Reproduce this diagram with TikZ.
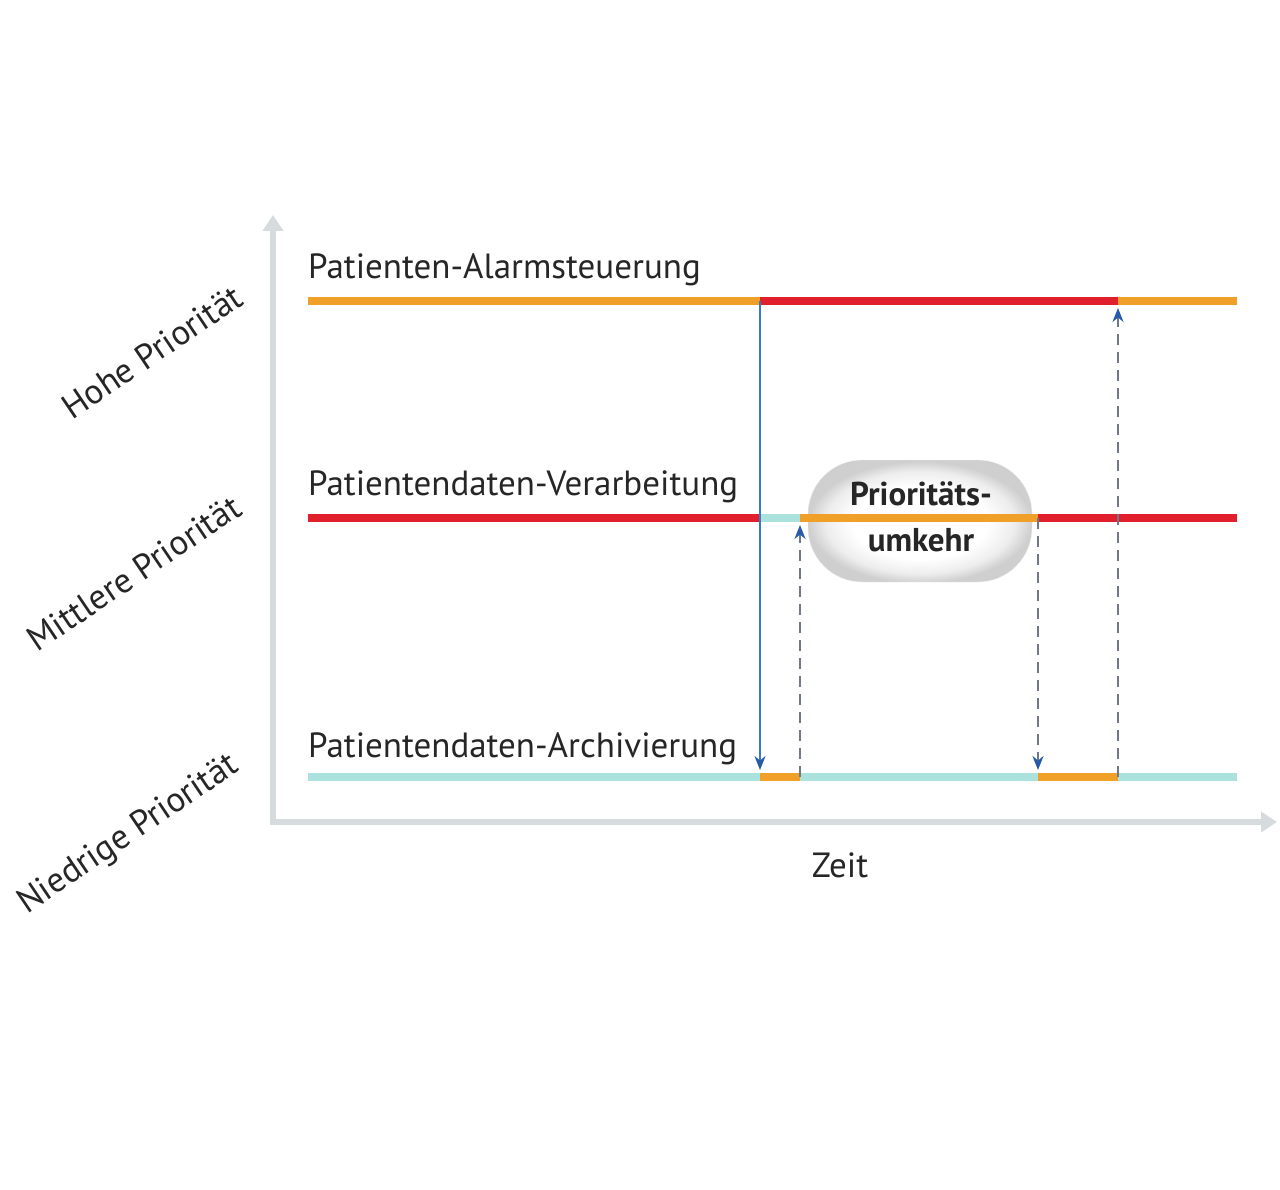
\documentclass[tikz,border=0pt]{standalone}
\usepackage{fontspec}
\setmainfont{PT Sans}
\usetikzlibrary{arrows.meta}
\definecolor{hot}{RGB}{226,32,45}
\definecolor{warm}{RGB}{240,160,40}
\definecolor{cool}{RGB}{172,226,222}
\definecolor{axisgray}{RGB}{214,219,221}
\definecolor{wakeblue}{RGB}{52,122,200}
\definecolor{tipblue}{RGB}{40,90,170}
\definecolor{dashgray}{RGB}{112,120,136}
\pgfdeclareradialshading{bubbleshade}{\pgfpoint{0bp}{-1bp}}{color(0bp)=(white); color(15bp)=(white); color(21bp)=(black!7); color(25bp)=(black!19); color(50bp)=(black!19)}
\tikzset{
  task/.style={line width=7.5pt},
  axisline/.style={line width=6pt, axisgray, -{Triangle[width=20pt,length=16pt]}},
  wake/.style={line width=1.6pt, wakeblue, -{Stealth[length=14pt,width=11pt,color=tipblue]}, shorten >=7pt},
  resume/.style={line width=2.2pt, dashgray, dash pattern=on 11pt off 7pt, -{Stealth[length=14pt,width=11pt,color=tipblue]}, shorten >=7pt},
  label/.style={font=\fontsize{35}{40}\selectfont, text=black!85, inner sep=0pt},
  bubble/.style={rounded corners=54pt, minimum width=224pt, minimum height=122pt, shading=bubbleshade, draw=black!5}
}
\begin{document}
\begin{tikzpicture}[x=1pt, y=-1pt]
  \useasboundingbox (0,0) rectangle (1280,1190);
  \fill[white] (0,0) rectangle (1280,1190);
  \draw[axisline] (273,825) coordinate (O) -- (273,215) coordinate (Y);
  \draw[axisline] (270,822) -- (1277,822) coordinate (X);
  \node[bubble] (B) at (920,521) {};
  \draw[task, warm] (308,301) coordinate (H0) -- (760,301) coordinate (H1);
  \draw[task, hot]  (H1) -- (1118,301) coordinate (H2);
  \draw[task, warm] (H2) -- (1237,301) coordinate (H3);
  \draw[task, hot]  (308,518) coordinate (M0) -- (760,518) coordinate (M1);
  \draw[task, cool] (M1) -- (800,518) coordinate (M2);
  \draw[task, warm] (M2) -- (1038,518) coordinate (M3);
  \draw[task, hot]  (M3) -- (1237,518) coordinate (M4);
  \draw[task, cool] (308,777) coordinate (N0) -- (760,777) coordinate (N1);
  \draw[task, warm] (N1) -- (800,777) coordinate (N2);
  \draw[task, cool] (N2) -- (1038,777) coordinate (N3);
  \draw[task, warm] (N3) -- (1118,777) coordinate (N4);
  \draw[task, cool] (N4) -- (1237,777) coordinate (N5);
  \draw[wake] (H1) -- (N1);
  \draw[resume] (N2) -- (M2);
  \draw[resume] (M3) -- (N3);
  \draw[resume] (N4) -- (H2);
  \node[label, anchor=base west] (alarm) at (308,279) {Patienten-Alarmsteuerung};
  \node[label, anchor=base west] (verarb) at (308,495) {Patientendaten-Verarbeitung};
  \node[label, anchor=base west] (archiv) at (308,757) {Patientendaten-Archivierung};
  \node[label, rotate=34] (hoch) at (152,352) {Hohe Priorität};
  \node[label, rotate=34] (mittel) at (134,573) {Mittlere Priorität};
  \node[label, rotate=34] (niedrig) at (129,835) {Niedrige Priorität};
  \node[label, anchor=base] (zeit) at (840,877) {Zeit};
  \node[label, font=\bfseries\fontsize{33}{46}\selectfont, align=center] (umkehr) at (921,517) {Prioritäts-\\umkehr};
\end{tikzpicture}
\end{document}
